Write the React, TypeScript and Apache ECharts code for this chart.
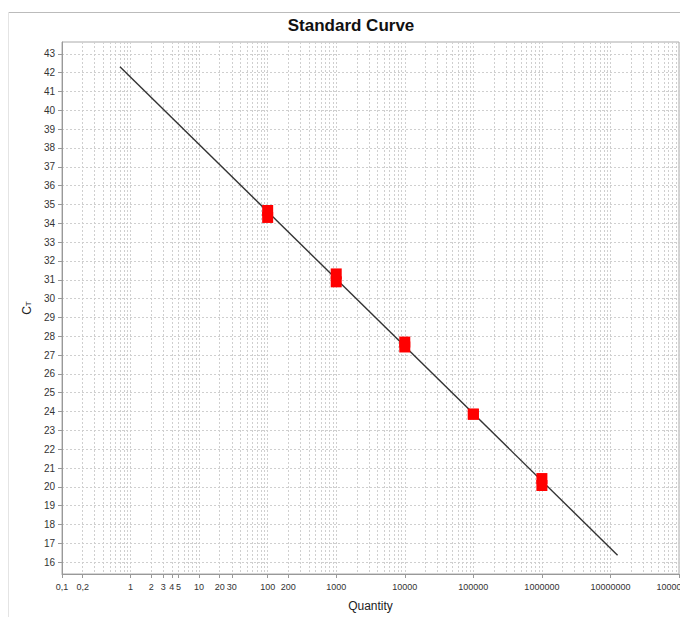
import React, { useEffect, useRef } from "react";
import * as echarts from "echarts";

const quantities = [100, 100, 1000, 1000, 10000, 10000, 100000, 100000, 1000000, 1000000];
const ctValues = [34.68, 34.31, 31.31, 30.89, 27.69, 27.43, 23.86, 23.86, 20.44, 20.07];
const fitX = [0.7, 12700000];
const fitY = [42.32, 16.37];
const xLabelValues = [0.1, 0.2, 1, 2, 3, 4, 5, 10, 20, 30, 100, 200, 1000, 10000, 100000, 1000000, 10000000, 100000000];
const yTickValues = [16, 17, 18, 19, 20, 21, 22, 23, 24, 25, 26, 27, 28, 29, 30, 31, 32, 33, 34, 35, 36, 37, 38, 39, 40, 41, 42, 43];
const decades = [0.1, 1, 10, 100, 1000, 10000, 100000, 1000000, 10000000];
const minorMultipliers = [1, 2, 3, 4, 5, 6, 7, 8, 9];

export default function App() {
  const ref = useRef<HTMLDivElement>(null);
  useEffect(() => {
    if (!ref.current) return;
    const chart = echarts.init(ref.current, null, { renderer: "svg" });
    const gridValues: number[] = [];
    decades.forEach((d) => minorMultipliers.forEach((m) => gridValues.push(Number((d * m).toPrecision(6)))));
    gridValues.push(100000000);
    const font = "Liberation Sans, Arial, sans-serif";
    chart.setOption({
      animation: false,
      textStyle: { fontFamily: font },
      title: {
        text: "Standard Curve",
        left: 346,
        top: 12,
        textAlign: "center",
        textStyle: { fontSize: 17, fontWeight: "bold", color: "#111", fontFamily: font },
      },
      graphic: [
        { type: "line", shape: { x1: 8, y1: 12.5, x2: 720, y2: 12.5 }, style: { stroke: "#bbb", lineWidth: 1 } },
        { type: "line", shape: { x1: 8.5, y1: 12, x2: 8.5, y2: 617 }, style: { stroke: "#e4e4e4", lineWidth: 1 } },
      ],
      grid: {
        left: 62,
        top: 42,
        right: 41,
        bottom: 37,
        show: true,
        borderColor: "#aaa",
        borderWidth: 1,
      },
      xAxis: [
        {
          type: "log",
          logBase: 10,
          min: 0.1,
          max: 100000000,
          name: "Quantity",
          nameLocation: "middle",
          nameGap: 26,
          nameTextStyle: { fontSize: 12, color: "#222", fontFamily: font },
          axisLine: { show: true, lineStyle: { color: "#999", width: 1 } },
          axisTick: { show: true, length: 4, lineStyle: { color: "#999" }, customValues: xLabelValues },
          axisLabel: {
            customValues: xLabelValues,
            fontSize: 9,
            color: "#333",
            margin: 8,
            fontFamily: font,
            formatter: (v: number) => String(Number(v.toPrecision(6))).replace(".", ","),
          },
          splitLine: { show: false },
        },
        {
          type: "log",
          logBase: 10,
          min: 0.1,
          max: 100000000,
          position: "bottom",
          axisLine: { show: false },
          axisTick: { show: false, customValues: gridValues },
          axisLabel: { show: false },
          splitLine: { show: true, lineStyle: { color: "#cfcfcf", type: [2, 2], width: 1 } },
        },
      ],
      yAxis: {
        type: "value",
        min: 15.37,
        max: 43.63,
        name: "{c|C}{t|T}",
        nameLocation: "middle",
        nameRotate: 90,
        nameGap: 27,
        nameTextStyle: {
          color: "#222",
          rich: {
            c: { fontSize: 12, color: "#222", fontFamily: font },
            t: { fontSize: 8, color: "#222", fontFamily: font, padding: [4, 0, 0, 0] },
          },
        },
        axisLine: { show: true, lineStyle: { color: "#999", width: 1 } },
        axisTick: { show: true, length: 4, lineStyle: { color: "#999" }, customValues: yTickValues },
        axisLabel: { customValues: yTickValues, fontSize: 10, color: "#333", margin: 7, fontFamily: font },
        splitLine: { show: true, lineStyle: { color: "#cfcfcf", type: [2, 2], width: 1 } },
      },
      series: [
        {
          type: "line",
          xAxisIndex: 0,
          data: fitX.map((x, i) => [x, fitY[i]]),
          showSymbol: false,
          symbol: "none",
          lineStyle: { color: "#333", width: 1.4 },
          silent: true,
          z: 2,
        },
        {
          type: "scatter",
          xAxisIndex: 0,
          data: quantities.map((q, i) => [q, ctValues[i]]),
          symbol: "rect",
          symbolSize: [11, 11],
          itemStyle: { color: "#ff0000", opacity: 1 },
          z: 3,
        },
      ],
    });
    return () => chart.dispose();
  }, []);
  return (
    <div style={{ position: "absolute", left: 0, top: 0, width: 680, height: 617, overflow: "hidden", background: "#fff" }}>
      <div ref={ref} style={{ width: 720, height: 617 }} />
    </div>
  );
}
